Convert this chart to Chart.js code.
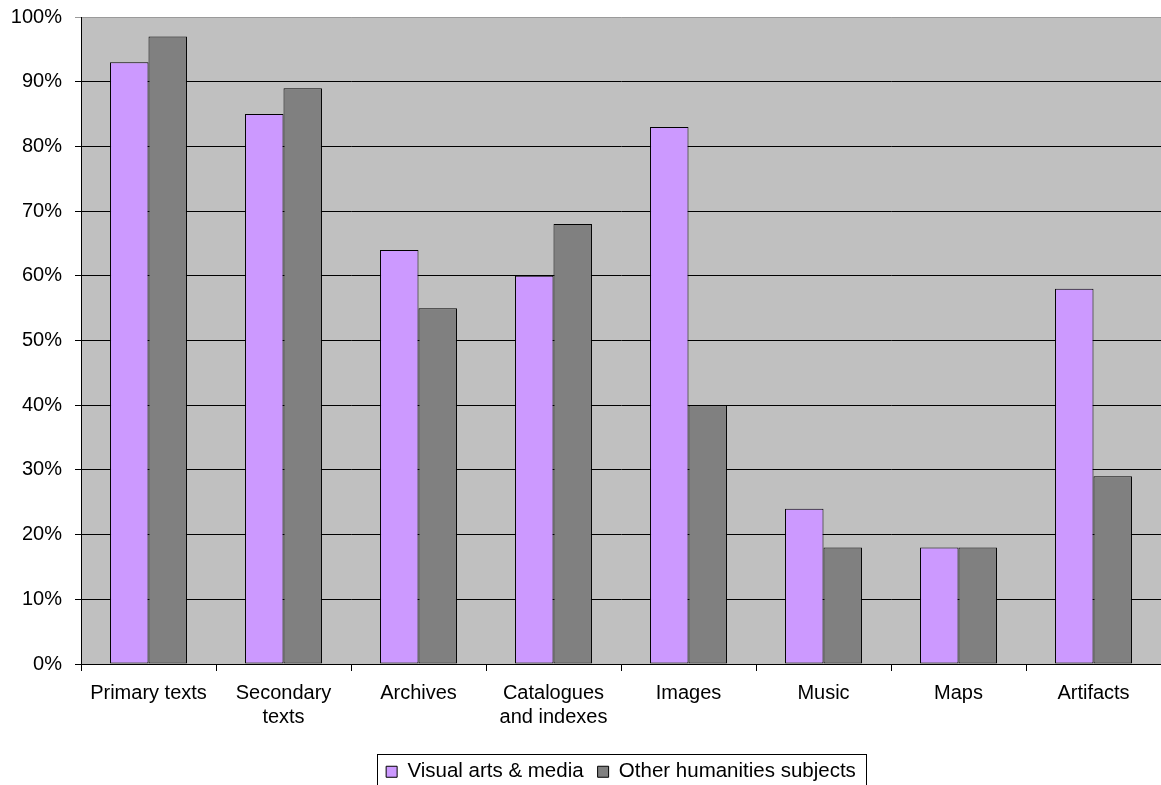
<!DOCTYPE html>
<html>
<head>
<meta charset="utf-8">
<script src="https://cdn.jsdelivr.net/npm/chart.js@4"></script>
<style>
  html, body { margin: 0; padding: 0; background: #fff; overflow: hidden; }
  #wrap { width: 1161px; height: 792px; }
</style>
</head>
<body>
<div id="wrap"><canvas id="resourceChart"></canvas></div>
<script>
// Resource types used, by subject group (percent)
const categories = ['Primary texts', ['Secondary', 'texts'], 'Archives', ['Catalogues', 'and indexes'], 'Images', 'Music', 'Maps', 'Artifacts'];
const visualArts = [93, 85, 64, 60, 83, 24, 18, 58];
const otherHumanities = [97, 89, 55, 68, 40, 18, 18, 29];
const seriesNames = ['Visual arts & media', 'Other humanities subjects'];
const yTicks = [0, 10, 20, 30, 40, 50, 60, 70, 80, 90, 100];

Chart.defaults.font.family = '"Liberation Sans", Arial, sans-serif';
Chart.defaults.font.size = 20;
Chart.defaults.color = '#000';

// grey plot background, legend centred under the plot, frame round the legend
const plotBackground = {
  id: 'plotBackground',
  beforeDraw(chart) {
    const { ctx, chartArea: a } = chart;
    const lg = chart.legend;
    lg.left = a.left;
    lg.right = a.right;
    lg.width = a.right - a.left;
    ctx.save();
    ctx.fillStyle = '#c0c0c0';
    ctx.fillRect(a.left, a.top, a.right - a.left, a.bottom - a.top);
    ctx.restore();
  },
  afterDraw(chart) {
    const lg = chart.legend;
    const boxes = lg.legendHitBoxes;
    if (!boxes || !boxes.length) return;
    const pad = lg.options.labels.padding;
    const startX = (lg.left + pad + lg.right - lg.lineWidths[0]) / 2;
    const left = Math.round(startX) - 8.5;
    const right = left + 489;
    const top = Math.round(boxes[0].top) - 7.5;
    const ctx = chart.ctx;
    ctx.save();
    ctx.strokeStyle = '#000';
    ctx.lineWidth = 1;
    ctx.strokeRect(left, top, right - left, 40);
    ctx.restore();
  }
};

const ctx = document.getElementById('resourceChart').getContext('2d');
new Chart(ctx, {
  type: 'bar',
  data: {
    labels: categories,
    datasets: [{
      label: seriesNames[0],
      data: visualArts,
      backgroundColor: '#cc99ff',
      borderColor: '#000',
      borderWidth: 1,
      borderSkipped: false
    }, {
      label: seriesNames[1],
      data: otherHumanities,
      backgroundColor: '#808080',
      borderColor: '#000',
      borderWidth: 1,
      borderSkipped: false
    }]
  },
  options: {
    responsive: true,
    maintainAspectRatio: false,
    animation: false,
    layout: { padding: { top: 17, left: 0, right: 0, bottom: 0 } },
    datasets: {
      bar: { categoryPercentage: 0.57, barPercentage: 1.0 }
    },
    scales: {
      x: {
        grid: { drawOnChartArea: false, drawTicks: true, tickLength: 7, color: '#000', offset: true },
        border: { color: '#000', width: 1 },
        ticks: { padding: 10, maxRotation: 0, autoSkip: false },
        afterFit(scale) {
          const lg = scale.chart.legend;
          scale.height = scale.chart.height - 664 - (lg ? lg.height : 0);
        }
      },
      y: {
        min: yTicks[0],
        max: yTicks[yTicks.length - 1],
        grid: {
          color: c => (c.tick && c.tick.value === 100 ? '#9a9a9a' : '#000'),
          tickLength: 6
        },
        border: { color: '#000', width: 1 },
        afterBuildTicks(scale) { scale.ticks = yTicks.map(v => ({ value: v })); },
        ticks: { padding: 13, callback: v => v + '%' },
        afterFit(scale) {
          scale.width = 81;
          scale.paddingTop = 0;
          scale.paddingBottom = 0;
        }
      }
    },
    plugins: {
      legend: {
        position: 'bottom',
        labels: { boxWidth: 11, boxHeight: 11, padding: 14, color: '#000', font: { size: 20.5 } }
      },
      tooltip: { enabled: false }
    }
  },
  plugins: [plotBackground]
});
</script>
</body>
</html>
